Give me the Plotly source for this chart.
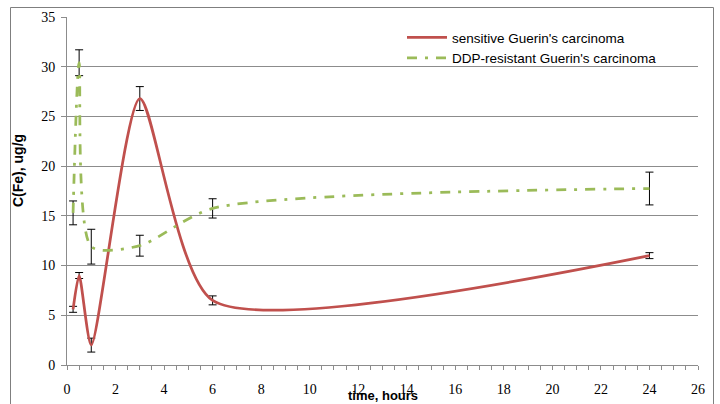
import plotly.graph_objects as go

# time points (hours)
time_h = [0.25, 0.5, 1, 3, 6, 24]

# sensitive Guerin's carcinoma
sens_vals = [5.6, 9.0, 2.0, 26.8, 6.5, 11.0]
sens_err = [0.3, 0.3, 0.7, 1.2, 0.45, 0.3]

# DDP-resistant Guerin's carcinoma
res_vals = [15.3, 30.4, 11.9, 12.0, 15.75, 17.75]
res_err = [1.2, 1.3, 1.75, 1.05, 0.97, 1.65]

x_ticks = list(range(0, 27, 2))
y_ticks = list(range(0, 36, 5))

RED = "#C0504D"
GREEN = "#9BBB59"
GRID = "#8C8C8C"

fig = go.Figure()
fig.add_trace(go.Scatter(
    x=time_h, y=sens_vals, mode="lines",
    name="sensitive Guerin's carcinoma",
    line=dict(color=RED, width=2.75, shape="spline", smoothing=0.65),
    error_y=dict(type="data", array=sens_err, visible=True, color="#000000", thickness=1, width=4),
))
fig.add_trace(go.Scatter(
    x=time_h, y=res_vals, mode="lines",
    name="DDP-resistant Guerin's carcinoma",
    line=dict(color=GREEN, width=2.75, shape="spline", smoothing=0.7, dash="10px,8px,3px,8px"),
    error_y=dict(type="data", array=res_err, visible=True, color="#000000", thickness=1, width=4),
))

L, R, T, B = 67, 22, 17, 39
W, H = 720, 404
pw, ph = W - L - R, H - T - B

def px_x(p):
    return (p - L) / pw

def px_y(p):
    return (H - B - p) / ph

fig.update_layout(
    width=W, height=H,
    margin=dict(l=L, r=R, t=T, b=B, autoexpand=False),
    paper_bgcolor="white", plot_bgcolor="white",
    showlegend=True,
    legend=dict(
        x=px_x(402), y=px_y(22), xanchor="left", yanchor="top",
        font=dict(family="Liberation Sans", size=13.5, color="#000000"),
        bgcolor="rgba(0,0,0,0)", tracegroupgap=0, itemwidth=40,
    ),
    xaxis=dict(
        range=[0, 26], tickvals=x_ticks, ticktext=[str(v) for v in x_ticks],
        showgrid=False, zeroline=False, showline=True, linecolor=GRID, linewidth=1,
        ticks="outside", ticklen=4, tickcolor=GRID, ticklabelstandoff=7,
        minor=dict(dtick=0.5, ticks="outside", ticklen=4, tickcolor=GRID, showgrid=False),
        tickfont=dict(family="Liberation Serif", size=14, color="#000000"),
    ),
    yaxis=dict(
        range=[0, 35], tickvals=y_ticks, ticktext=[str(v) for v in y_ticks],
        showgrid=True, gridcolor=GRID, gridwidth=1, zeroline=False,
        showline=True, linecolor=GRID, linewidth=1,
        ticks="outside", ticklen=5, tickcolor=GRID, ticklabelstandoff=3,
        tickfont=dict(family="Liberation Serif", size=14, color="#000000"),
    ),
    annotations=[
        dict(text="<b>time, hours</b>", xref="paper", yref="paper",
             x=px_x(383), y=px_y(395), xanchor="center", yanchor="middle",
             showarrow=False, font=dict(family="Liberation Sans", size=13, color="#000000")),
        dict(text="<b>C(Fe), ug/g</b>", xref="paper", yref="paper",
             x=px_x(18), y=px_y(171), xanchor="center", yanchor="middle", textangle=-90,
             showarrow=False, font=dict(family="Liberation Sans", size=14, color="#000000")),
    ],
    shapes=[
        dict(type="rect", xref="paper", yref="paper",
             x0=px_x(10.5), x1=px_x(713.5), y0=px_y(420), y1=px_y(7.5),
             line=dict(color="#7F7F7F", width=1), fillcolor="rgba(0,0,0,0)", layer="below"),
    ],
)

fig.write_html(
    "out.html",
    config={"displayModeBar": False},
    post_script="document.body.style.margin='0';document.body.style.padding='0';",
)
